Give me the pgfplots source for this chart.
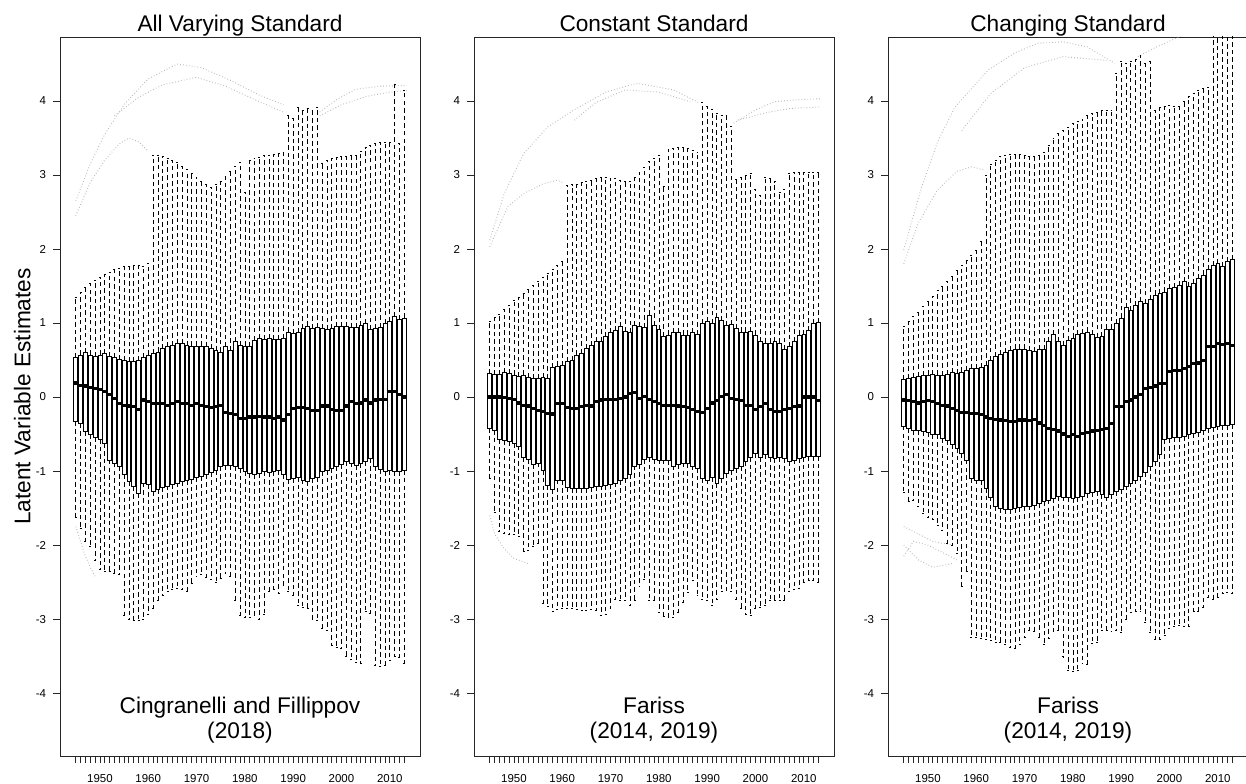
\documentclass[border=0pt]{standalone}
\usepackage{fontspec}
\setmainfont{Liberation Sans}
\usepackage{pgfplots}
\usepackage{pgfplotstable}
\usepgfplotslibrary{statistics}
\pgfplotsset{compat=1.18}

\newcommand\bigf{\fontsize{17}{20}\selectfont}
\newcommand\smallf{\fontsize{8.6}{10}\selectfont}

% columns: year, lower whisker, lower quartile, median, upper quartile, upper whisker
\pgfplotstableread{
yr lw q1 md q3 uw
1945 -1.62 -0.33 0.19 0.54 1.35
1946 -1.78 -0.36 0.16 0.57 1.42
1947 -1.95 -0.47 0.15 0.60 1.48
1948 -2.02 -0.50 0.13 0.57 1.53
1949 -2.20 -0.54 0.12 0.55 1.58
1950 -2.33 -0.57 0.10 0.57 1.62
1951 -2.35 -0.63 0.07 0.59 1.66
1952 -2.36 -0.85 0.03 0.55 1.69
1953 -2.38 -0.89 -0.02 0.54 1.72
1954 -2.40 -0.94 -0.09 0.51 1.74
1955 -2.95 -1.05 -0.11 0.49 1.76
1956 -3.00 -1.14 -0.12 0.48 1.77
1957 -3.02 -1.21 -0.13 0.48 1.78
1958 -3.02 -1.30 -0.17 0.50 1.78
1959 -3.00 -1.16 -0.04 0.54 1.77
1960 -2.93 -1.18 -0.06 0.57 1.80
1961 -2.85 -1.27 -0.09 0.59 3.27
1962 -2.75 -1.25 -0.09 0.61 3.26
1963 -2.68 -1.22 -0.09 0.66 3.25
1964 -2.63 -1.20 -0.11 0.68 3.22
1965 -2.60 -1.18 -0.09 0.70 3.20
1966 -2.58 -1.16 -0.06 0.72 3.17
1967 -2.60 -1.14 -0.09 0.72 3.12
1968 -2.62 -1.13 -0.09 0.70 3.08
1969 -2.52 -1.11 -0.11 0.69 3.02
1970 -2.42 -1.09 -0.09 0.69 2.97
1971 -2.40 -1.07 -0.11 0.69 2.92
1972 -2.43 -1.05 -0.13 0.68 2.87
1973 -2.46 -1.02 -0.14 0.66 2.84
1974 -2.50 -0.99 -0.13 0.63 2.87
1975 -2.45 -0.94 -0.11 0.61 2.92
1976 -2.38 -0.92 -0.21 0.68 2.98
1977 -2.42 -0.92 -0.22 0.63 3.05
1978 -2.75 -0.94 -0.24 0.75 3.12
1979 -2.95 -0.96 -0.29 0.70 3.17
1980 -2.98 -1.01 -0.29 0.69 2.76
1981 -2.97 -1.03 -0.27 0.68 3.20
1982 -2.95 -1.04 -0.27 0.77 3.22
1983 -3.00 -1.03 -0.26 0.79 3.24
1984 -2.93 -1.01 -0.27 0.78 3.26
1985 -2.62 -1.02 -0.27 0.79 3.27
1986 -2.60 -1.01 -0.29 0.78 3.28
1987 -2.65 -0.99 -0.27 0.78 3.29
1988 -2.55 -1.05 -0.31 0.79 3.30
1989 -2.62 -1.11 -0.24 0.88 3.81
1990 -2.68 -1.10 -0.15 0.86 3.77
1991 -2.82 -1.08 -0.14 0.87 3.92
1992 -2.84 -1.12 -0.14 0.93 3.87
1993 -2.86 -1.14 -0.15 0.96 3.90
1994 -3.00 -1.10 -0.18 0.93 3.87
1995 -3.02 -1.08 -0.18 0.94 3.92
1996 -3.12 -1.01 -0.12 0.93 3.16
1997 -3.15 -0.99 -0.12 0.91 3.20
1998 -3.36 -0.96 -0.17 0.93 3.22
1999 -3.38 -0.94 -0.18 0.95 3.24
2000 -3.40 -0.91 -0.18 0.95 3.25
2001 -3.50 -0.87 -0.12 0.95 3.25
2002 -3.55 -0.89 -0.06 0.94 3.26
2003 -3.58 -0.92 -0.09 0.94 3.27
2004 -3.60 -0.90 -0.08 0.97 3.32
2005 -2.90 -0.87 -0.04 1.00 3.37
2006 -2.92 -0.83 -0.08 0.91 3.40
2007 -3.62 -0.94 -0.04 0.93 3.43
2008 -3.64 -0.98 -0.03 0.94 3.44
2009 -3.63 -1.00 -0.03 1.00 3.44
2010 -3.56 -0.99 0.07 1.02 3.44
2011 -3.50 -1.01 0.07 1.09 4.22
2012 -3.52 -1.01 0.03 1.05 3.43
2013 -3.60 -0.99 0.00 1.07 4.15
}\tabA

\pgfplotstableread{
yr lw q1 md q3 uw
1945 -1.10 -0.42 0.00 0.32 1.02
1946 -1.56 -0.45 0.00 0.31 1.08
1947 -1.82 -0.57 0.00 0.31 1.12
1948 -1.84 -0.59 -0.01 0.33 1.18
1949 -1.85 -0.60 -0.02 0.32 1.24
1950 -1.86 -0.63 -0.03 0.30 1.31
1951 -1.88 -0.66 -0.08 0.28 1.35
1952 -2.08 -0.81 -0.11 0.30 1.40
1953 -2.07 -0.84 -0.12 0.27 1.46
1954 -2.02 -0.91 -0.15 0.25 1.51
1955 -1.97 -0.89 -0.18 0.25 1.57
1956 -2.79 -0.99 -0.19 0.27 1.62
1957 -2.83 -1.19 -0.22 0.25 1.67
1958 -2.89 -1.25 -0.23 0.40 1.73
1959 -2.87 -1.12 -0.09 0.42 1.78
1960 -2.86 -1.13 -0.09 0.43 1.84
1961 -2.86 -1.22 -0.14 0.48 2.86
1962 -2.86 -1.23 -0.15 0.50 2.87
1963 -2.87 -1.23 -0.15 0.57 2.88
1964 -2.88 -1.23 -0.13 0.59 2.90
1965 -2.88 -1.23 -0.11 0.66 2.91
1966 -2.87 -1.22 -0.12 0.70 2.93
1967 -2.88 -1.21 -0.06 0.75 2.95
1968 -2.95 -1.20 -0.04 0.75 2.97
1969 -2.93 -1.19 -0.03 0.82 2.97
1970 -2.86 -1.18 -0.03 0.87 2.96
1971 -2.73 -1.16 -0.03 0.90 2.95
1972 -2.74 -1.13 -0.02 0.95 2.93
1973 -2.75 -1.10 0.00 0.89 2.91
1974 -2.81 -1.05 0.05 0.87 2.91
1975 -2.74 -0.93 0.06 0.97 2.97
1976 -2.56 -0.91 -0.02 0.95 3.04
1977 -2.46 -0.84 0.01 0.94 3.11
1978 -2.74 -0.81 -0.03 1.11 3.18
1979 -2.74 -0.84 -0.06 0.97 3.22
1980 -2.91 -0.85 -0.09 0.91 3.27
1981 -2.96 -0.85 -0.11 0.82 2.85
1982 -2.97 -0.86 -0.11 0.84 3.35
1983 -2.97 -0.93 -0.11 0.87 3.36
1984 -2.91 -0.91 -0.12 0.87 3.37
1985 -2.78 -0.89 -0.13 0.84 3.37
1986 -2.64 -0.90 -0.14 0.84 3.36
1987 -2.47 -0.93 -0.17 0.87 3.34
1988 -2.68 -0.96 -0.19 0.85 3.31
1989 -2.73 -1.10 -0.21 1.00 3.98
1990 -2.75 -1.12 -0.15 1.02 3.93
1991 -2.81 -1.08 -0.08 1.00 3.89
1992 -2.73 -1.17 -0.05 1.08 3.84
1993 -2.62 -1.10 0.01 1.03 3.80
1994 -2.61 -1.03 0.03 0.97 3.81
1995 -2.62 -0.99 -0.02 0.98 3.66
1996 -2.73 -0.96 -0.03 0.93 2.94
1997 -2.86 -0.94 -0.05 0.88 2.97
1998 -2.93 -0.87 -0.11 0.88 3.00
1999 -2.95 -0.81 -0.11 0.89 3.02
2000 -2.86 -0.76 -0.17 0.84 2.80
2001 -2.84 -0.81 -0.13 0.75 2.73
2002 -2.81 -0.78 -0.09 0.73 2.97
2003 -2.75 -0.82 -0.17 0.73 2.95
2004 -2.74 -0.83 -0.20 0.75 2.91
2005 -2.74 -0.81 -0.20 0.73 2.77
2006 -2.74 -0.83 -0.17 0.64 2.81
2007 -2.63 -0.87 -0.15 0.68 3.02
2008 -2.60 -0.85 -0.13 0.75 3.03
2009 -2.59 -0.83 -0.12 0.84 3.03
2010 -2.51 -0.81 0.00 0.85 3.03
2011 -2.47 -0.80 0.00 0.90 3.03
2012 -2.47 -0.80 0.00 0.99 3.03
2013 -2.50 -0.80 -0.05 1.01 3.03
}\tabB

\pgfplotstableread{
yr lw q1 md q3 uw
1945 -1.29 -0.39 -0.04 0.24 0.96
1946 -1.41 -0.42 -0.05 0.25 1.02
1947 -1.39 -0.45 -0.06 0.26 1.09
1948 -1.48 -0.45 -0.08 0.28 1.15
1949 -1.57 -0.47 -0.06 0.29 1.23
1950 -1.62 -0.48 -0.05 0.30 1.30
1951 -1.65 -0.50 -0.06 0.31 1.36
1952 -1.74 -0.51 -0.09 0.30 1.44
1953 -1.80 -0.56 -0.11 0.29 1.50
1954 -1.98 -0.59 -0.12 0.31 1.57
1955 -2.00 -0.64 -0.15 0.33 1.63
1956 -2.11 -0.69 -0.18 0.32 1.71
1957 -2.56 -0.76 -0.21 0.34 1.78
1958 -2.35 -0.85 -0.21 0.36 1.85
1959 -3.24 -1.10 -0.22 0.39 1.92
1960 -3.25 -1.12 -0.22 0.39 1.98
1961 -3.26 -1.13 -0.24 0.40 2.11
1962 -3.28 -1.23 -0.27 0.43 2.99
1963 -3.29 -1.35 -0.29 0.50 3.15
1964 -3.31 -1.48 -0.30 0.55 3.20
1965 -3.32 -1.50 -0.31 0.58 3.25
1966 -3.34 -1.52 -0.32 0.60 3.27
1967 -3.38 -1.52 -0.33 0.63 3.28
1968 -3.40 -1.50 -0.33 0.65 3.28
1969 -3.34 -1.49 -0.31 0.65 3.28
1970 -3.24 -1.48 -0.31 0.65 3.27
1971 -3.15 -1.47 -0.32 0.63 3.25
1972 -3.16 -1.46 -0.30 0.62 3.25
1973 -3.24 -1.44 -0.35 0.64 3.27
1974 -3.34 -1.41 -0.38 0.64 3.31
1975 -3.26 -1.39 -0.42 0.75 3.40
1976 -3.16 -1.37 -0.44 0.85 3.49
1977 -3.15 -1.34 -0.46 0.75 3.56
1978 -3.51 -1.35 -0.50 0.70 3.61
1979 -3.69 -1.36 -0.53 0.77 3.65
1980 -3.71 -1.37 -0.51 0.80 3.70
1981 -3.69 -1.36 -0.53 0.85 3.72
1982 -3.60 -1.34 -0.49 0.86 3.75
1983 -3.61 -1.30 -0.48 0.88 3.80
1984 -3.33 -1.29 -0.46 0.85 3.83
1985 -3.32 -1.28 -0.45 0.81 3.85
1986 -3.15 -1.32 -0.44 0.82 3.87
1987 -3.15 -1.35 -0.42 0.92 3.88
1988 -3.16 -1.32 -0.36 0.92 3.88
1989 -3.15 -1.28 -0.13 0.99 4.37
1990 -3.18 -1.25 -0.13 1.07 4.53
1991 -3.01 -1.20 -0.06 1.21 4.51
1992 -2.91 -1.16 -0.04 1.17 4.53
1993 -2.89 -1.12 0.00 1.24 4.56
1994 -2.90 -1.07 0.03 1.29 4.62
1995 -3.04 -1.02 0.12 1.27 4.51
1996 -3.18 -0.94 0.13 1.32 4.54
1997 -3.28 -0.87 0.15 1.38 3.88
1998 -3.28 -0.78 0.18 1.40 3.91
1999 -3.22 -0.57 0.18 1.42 3.93
2000 -3.13 -0.56 0.34 1.47 3.94
2001 -3.10 -0.55 0.36 1.48 3.93
2002 -3.09 -0.54 0.36 1.51 3.93
2003 -3.10 -0.53 0.39 1.56 4.00
2004 -3.10 -0.50 0.41 1.49 4.06
2005 -2.90 -0.49 0.45 1.53 4.11
2006 -2.89 -0.48 0.46 1.60 4.15
2007 -2.84 -0.45 0.49 1.65 4.17
2008 -2.71 -0.42 0.68 1.72 4.18
2009 -2.73 -0.41 0.68 1.78 5.20
2010 -2.70 -0.39 0.72 1.81 5.20
2011 -2.65 -0.38 0.71 1.76 5.20
2012 -2.64 -0.38 0.72 1.83 5.20
2013 -2.65 -0.37 0.70 1.86 5.20
}\tabC

% x axis: 0 = 1945, ..., 68 = 2013
\pgfplotsset{
  panel/.style={
    scale only axis, width=270pt, height=539.25pt,
    xmin=-3.26, xmax=71.26, ymin=-4.85, ymax=4.865,
    axis line style={line width=0.6pt, black!85},
    tick align=outside,
    xtick pos=lower, ytick pos=left,
    every tick/.style={line width=0.6pt, black!85},
    major tick length=5pt, minor tick length=5pt,
    xtick={5,15,...,65},
    xticklabels={1950,1960,1970,1980,1990,2000,2010},
    minor xtick={0,...,68},
    ytick={-4,-3,...,4},
    /pgf/number format/assume math mode=true,
    xticklabel style={font=\smallf},
    yticklabel style={font=\smallf},
    xticklabel shift=5pt,
    yticklabel shift=2pt,
    title style={font=\bigf, at={(0.5,1)}, anchor=base, yshift=-1.6pt},
    clip=true,
  },
  bxp/.style={
    black, line width=0.5pt, solid,
    boxplot/draw direction=y,
    boxplot/box extend=0.8,
    boxplot/whisker extend=0.4,
    boxplot/every box/.style={fill=white, draw=black},
    boxplot/every whisker/.style={dash pattern=on 3.4pt off 2.3pt},
    boxplot/every median/.style={line width=2.4pt},
  },
  outl/.style={gray!55, line width=0.7pt, dash pattern=on 0.6pt off 1.6pt},
}

\newcommand\drawboxes[1]{%
  \pgfplotsforeachungrouped \r in {0,...,68}{%
    \pgfplotstablegetelem{\r}{yr}\of#1\let\yr\pgfplotsretval
    \pgfplotstablegetelem{\r}{lw}\of#1\let\lw\pgfplotsretval
    \pgfplotstablegetelem{\r}{q1}\of#1\let\qa\pgfplotsretval
    \pgfplotstablegetelem{\r}{md}\of#1\let\md\pgfplotsretval
    \pgfplotstablegetelem{\r}{q3}\of#1\let\qc\pgfplotsretval
    \pgfplotstablegetelem{\r}{uw}\of#1\let\uw\pgfplotsretval
    \pgfmathtruncatemacro\xp{\yr-1945}%
    \edef\doplot{\noexpand\addplot[bxp, boxplot prepared={draw position=\xp,
      lower whisker=\lw, lower quartile=\qa, median=\md,
      upper quartile=\qc, upper whisker=\uw}] coordinates {};}%
    \doplot
  }%
}

\begin{document}
\begin{tikzpicture}
\useasboundingbox (0,0) rectangle (934.5pt,588pt);

% ---------------- Panel 1
\begin{axis}[panel, at={(45pt,21pt)}, anchor=south west,
  title={All Varying Standard},
  ylabel={Latent Variable Estimates},
  ylabel style={font=\bigf, at={(axis description cs:-0.082,0.5)}, anchor=base}]
\addplot[outl] coordinates {(0,2.65) (3,3.15) (6,3.55) (10,3.95) (15,4.3) (21,4.5) (26,4.45) (32,4.28) (38,4.08) (43,3.95)};
\addplot[outl] coordinates {(0,2.45) (3,2.9) (6,3.2) (9,3.42) (11,3.5) (13,3.45) (15,3.32)};
\addplot[outl] coordinates {(8,3.8) (13,4.05) (18,4.22) (25,4.32) (31,4.2) (37,4.02) (43,3.85)};
\addplot[outl] coordinates {(50.5,3.85) (54,4.02) (58,4.16) (63,4.2) (68.5,4.21)};
\addplot[outl] coordinates {(50.5,3.8) (55,3.95) (60,4.06) (65,4.12) (68.5,4.14)};
\addplot[outl] coordinates {(0,-1.75) (1,-1.95) (2,-2.15) (3,-2.3) (4,-2.42)};
\drawboxes{\tabA}
\node[font=\bigf, anchor=base] at (axis cs:34,-4.27) {Cingranelli and Fillippov};
\node[font=\bigf, anchor=base] at (axis cs:34,-4.61) {(2018)};
\end{axis}

% ---------------- Panel 2
\begin{axis}[panel, at={(355.5pt,21pt)}, anchor=south west,
  title={Constant Standard}]
\addplot[outl] coordinates {(0,2.12) (3,2.75) (7,3.29) (12,3.65) (17.5,3.88) (24,4.12) (30.5,4.24) (38,4.15) (43.5,3.97)};
\addplot[outl] coordinates {(17.5,3.74) (22,3.98) (28,4.15) (35,4.12) (41.5,3.99)};
\addplot[outl] coordinates {(0,2.03) (3.7,2.57) (7,2.75) (11,2.88) (14,2.93) (15,2.9)};
\addplot[outl] coordinates {(50.5,3.7) (55,3.88) (59,3.99) (64,4.02) (68.5,4.03)};
\addplot[outl] coordinates {(51.3,3.74) (57,3.84) (62.3,3.9) (68.5,3.92)};
\addplot[outl] coordinates {(0,-1.6) (1,-1.85) (3,-2.05) (5,-2.18) (8,-2.25)};
\drawboxes{\tabB}
\node[font=\bigf, anchor=base] at (axis cs:34,-4.27) {Fariss};
\node[font=\bigf, anchor=base] at (axis cs:34,-4.61) {(2014, 2019)};
\end{axis}

% ---------------- Panel 3
\begin{axis}[panel, at={(666pt,21pt)}, anchor=south west,
  title={Changing Standard}]
\addplot[outl] coordinates {(0,1.99) (3.7,2.84) (7,3.45) (10.6,3.92) (17.5,4.42) (23,4.65) (27.8,4.78) (33,4.8) (38,4.73) (43.7,4.51)};
\addplot[outl] coordinates {(48.5,4.6) (52,4.72) (55.4,4.82) (58,4.9)};
\addplot[outl] coordinates {(0,1.8) (3,2.35) (7,2.8) (11,3.05) (14,3.11) (16.8,3.07)};
\addplot[outl] coordinates {(12,3.6) (18,4.1) (25,4.45) (33,4.6) (42,4.55)};
\addplot[outl] coordinates {(0,-1.75) (3,-1.85) (6,-1.95) (10,-2.0)};
\addplot[outl] coordinates {(0,-2.0) (3,-2.2) (6,-2.3) (10,-2.25)};
\addplot[outl] coordinates {(0,-2.15) (2,-1.95) (5,-2.0) (8,-2.1) (11,-2.2)};
\drawboxes{\tabC}
\node[font=\bigf, anchor=base] at (axis cs:34,-4.27) {Fariss};
\node[font=\bigf, anchor=base] at (axis cs:34,-4.61) {(2014, 2019)};
\end{axis}
\end{tikzpicture}
\end{document}
